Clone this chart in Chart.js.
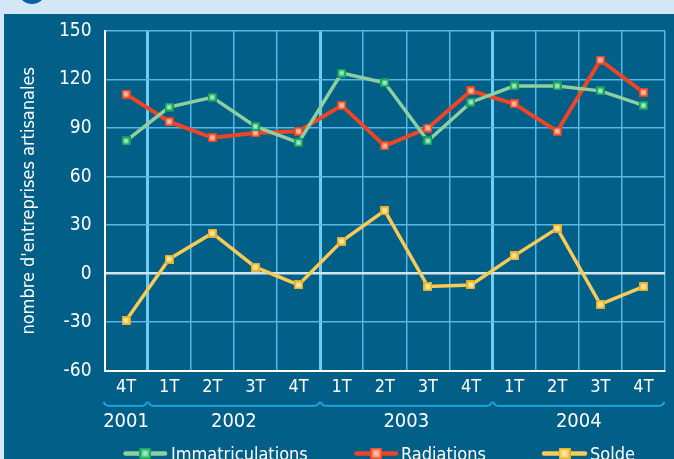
<!DOCTYPE html>
<html><head><meta charset="utf-8">
<script src="https://cdn.jsdelivr.net/npm/chart.js@4"></script>
<style>html,body{margin:0;padding:0;background:#d4e7f6;overflow:hidden}#wrap{width:674px;height:459px;position:relative}</style>
</head><body><div id="wrap"><canvas id="c" width="674" height="459"></canvas></div>
<script>
const categories = ['4T','1T','2T','3T','4T','1T','2T','3T','4T','1T','2T','3T','4T'];
const years = ['2001','2002','2003','2004'];
const yearFirstIndex = [0,1,5,9];
const yearLastIndex = [0,4,8,12];
const immatriculations = [82,103,109,91,81,124,118,82,106,116,116,113,104];
const radiations = [111,94,84,87,88,104,79,90,113,105,88,132,112];
const solde = [-29,9,25,4,-7,20,39,-8,-7,11,28,-19,-8];
const yTicks = [-60,-30,0,30,60,90,120,150];

const FONT = '"DejaVu Sans Condensed","DejaVu Sans",sans-serif';

function makeMarker(size, border, fill, hi){
  const c = document.createElement('canvas');
  c.width = size; c.height = size;
  const g = c.getContext('2d');
  g.fillStyle = border; g.fillRect(0,0,size,size);
  g.fillStyle = fill; g.fillRect(1.5,1.5,size-3,size-3);
  const h = Math.round(size*0.4);
  g.fillStyle = hi; g.fillRect((size-h)/2,(size-h)/2,h,h);
  return c;
}
const styles = [
  {line:'#8fcf9e', w:3.5, m:['#12985a','#3ec77f','#a0e8c2']},
  {line:'#ee4526', w:4,   m:['#e0431f','#f7866a','#fbbba8']},
  {line:'#f8ca56', w:3.5, m:['#e2ab2c','#fbd25f','#fee5a0']}
];
const markers = styles.map(s=>makeMarker(9,...s.m));
const legendMarkers = styles.map(s=>makeMarker(12,...s.m));

const bgPlugin = {
  id:'bg',
  beforeDraw(chart){
    const ctx = chart.ctx;
    ctx.save();
    ctx.fillStyle = '#d4e7f6'; ctx.fillRect(0,0,674,459);
    ctx.fillStyle = '#025f88'; ctx.fillRect(4,14,670,445);
    ctx.fillStyle = '#0d5fa6';
    ctx.beginPath(); ctx.arc(32,-10.5,14.5,0,Math.PI*2); ctx.fill();
    ctx.restore();
  }
};

const extraPlugin = {
  id:'extra',
  afterDraw(chart){
    const ctx = chart.ctx, x = chart.scales.x, area = chart.chartArea;
    const px = i => x.getPixelForValue(i);
    const bound = i => i<=0 ? area.left : (i>=categories.length ? area.right : (px(i-1)+px(i))/2);
    ctx.save();
    // year braces
    ctx.strokeStyle = '#1ea9e2'; ctx.lineWidth = 1.8;
    const yb = 405.8;
    years.forEach((yr,k)=>{
      const x0 = bound(yearFirstIndex[k]) + (k===0?-1:0.5), x1 = bound(yearLastIndex[k]+1) - 0.5;
      ctx.beginPath();
      ctx.moveTo(x0, yb-4);
      ctx.quadraticCurveTo(x0+1.5, yb, x0+5, yb);
      ctx.lineTo(x1-5, yb);
      ctx.quadraticCurveTo(x1-1.5, yb, x1, yb-4);
      ctx.stroke();
      ctx.fillStyle = '#ffffff';
      ctx.font = '20px '+FONT;
      ctx.textAlign = 'center'; ctx.textBaseline = 'middle';
      ctx.fillText(yr, (px(yearFirstIndex[k])+px(yearLastIndex[k]))/2, 421.5);
    });
    // legend
    const items = [[125.5,165,171],[356.5,396,401],[544,585,590]];
    chart.data.datasets.forEach((ds,i)=>{
      const [a,b,t] = items[i];
      const yl = 453.5;
      ctx.strokeStyle = ds.borderColor; ctx.lineWidth = 4.5; ctx.lineCap='round';
      ctx.beginPath(); ctx.moveTo(a,yl); ctx.lineTo(b,yl); ctx.stroke();
      const m = legendMarkers[i];
      ctx.drawImage(m, (a+b)/2 - m.width/2, yl - m.height/2);
      ctx.fillStyle = '#ffffff';
      ctx.font = '18px '+FONT;
      ctx.textAlign = 'left'; ctx.textBaseline = 'alphabetic';
      ctx.fillText(ds.label, t, 459.5);
    });
    ctx.restore();
  }
};

const thick = [1,5,9,13];
new Chart(document.getElementById('c'), {
  type:'line',
  data:{
    labels:categories,
    datasets:[
      {label:'Immatriculations', data:immatriculations},
      {label:'Radiations', data:radiations},
      {label:'Solde', data:solde}
    ].map((d,i)=>Object.assign(d,{
      borderColor:styles[i].line, borderWidth:styles[i].w,
      pointStyle:markers[i], pointRadius:5, pointHoverRadius:5,
      tension:0, fill:false, clip:false
    }))
  },
  options:{
    responsive:false, animation:false, devicePixelRatio:1,
    layout:{padding:{left:0,top:31,right:2.5,bottom:0}},
    plugins:{legend:{display:false}, tooltip:{enabled:false}},
    scales:{
      x:{
        offset:true,
        grid:{offset:true, drawTicks:false,
          color:c=> c.index===0 ? '#ffffff' : (thick.includes(c.index)?'#6fcdf4':'#55b8e6'),
          lineWidth:c=> thick.includes(c.index)?3:1.5},
        border:{color:'#ffffff', width:2},
        ticks:{color:'#ffffff', font:{family:FONT,size:18}, padding:6, maxRotation:0, autoSkip:false},
        afterFit(s){ s.height = 88.3; }
      },
      y:{
        min:-60, max:150,
        afterBuildTicks(s){ s.ticks = yTicks.map(v=>({value:v})); },
        grid:{drawTicks:false,
          color:c=> c.tick && c.tick.value===0 ? '#d2e5ee' : (c.tick && c.tick.value===-60 ? '#ffffff' : '#55b8e6'),
          lineWidth:c=> c.tick && c.tick.value===0 ? 2.5 : 1.5},
        border:{color:'#ffffff', width:2},
        ticks:{color:'#ffffff', font:{family:FONT,size:19}, padding:13},
        title:{display:true, text:"nombre d'entreprises artisanales", color:'#ffffff',
          font:{family:FONT,size:18}, padding:{top:19,bottom:0}},
        afterFit(s){ s.width = 104.5; }
      }
    }
  },
  plugins:[bgPlugin, extraPlugin]
});
</script></body></html>
